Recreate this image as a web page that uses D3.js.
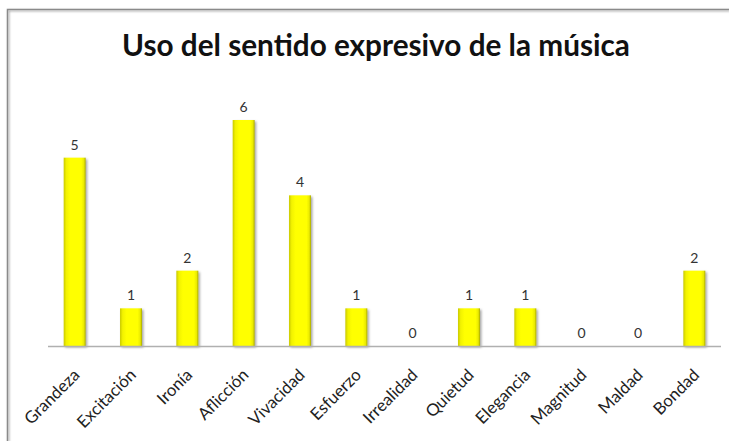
<!DOCTYPE html>
<html><head><meta charset="utf-8">
<script src="https://cdn.jsdelivr.net/npm/d3@7"></script>
<style>body{margin:0;background:#fff}svg{display:block}</style>
</head><body>
<script>
const title = "Uso del sentido expresivo de la música";
const categories = ["Grandeza","Excitación","Ironía","Aflicción","Vivacidad","Esfuerzo","Irrealidad","Quietud","Elegancia","Magnitud","Maldad","Bondad"];
const values = [5,1,2,6,4,1,0,1,1,0,0,2];

const W = 729, H = 441;
const FONT = "Lato, 'Open Sans', sans-serif";
const svg = d3.select("body").append("svg").attr("width", W).attr("height", H);
const defs = svg.append("defs");
const g = defs.append("linearGradient").attr("id","barGrad").attr("x1","0").attr("x2","1").attr("y1","0").attr("y2","0");
[[0,"#c9c900"],[0.12,"#f2f200"],[0.3,"#ffff00"],[0.8,"#ffff00"],[0.92,"#eaea00"],[1,"#a8a800"]].forEach(([o,c])=>g.append("stop").attr("offset",o).attr("stop-color",c));
const f = defs.append("filter").attr("id","sh").attr("x","-30%").attr("y","-10%").attr("width","160%").attr("height","130%");
f.append("feDropShadow").attr("dx",1.5).attr("dy",1.5).attr("stdDeviation",1.2).attr("flood-color","#000").attr("flood-opacity",0.35);
const bf = defs.append("filter").attr("id","bsh");
bf.append("feDropShadow").attr("dx",1).attr("dy",1).attr("stdDeviation",1).attr("flood-color","#000").attr("flood-opacity",0.4);

// border (top & left visible)
svg.append("path").attr("d","M7.5,441 L7.5,9.5 L729,9.5").attr("fill","none").attr("stroke","#8a8a8a").attr("stroke-width",1.5).attr("filter","url(#bsh)");

const x = d3.scaleBand().domain(categories).range([46.5, 722.5]).paddingInner(0.61).paddingOuter(0.305);
const y = d3.scaleLinear().domain([0, 6]).range([346, 120]);

svg.selectAll("rect.bar").data(values).join("rect").attr("class","bar")
  .attr("x",(d,i)=>x(categories[i])).attr("width",x.bandwidth())
  .attr("y",d=>y(d)).attr("height",d=>y(0)-y(d))
  .attr("fill","url(#barGrad)").attr("filter","url(#sh)");

// baseline
svg.append("line").attr("x1",48).attr("x2",721).attr("y1",346.5).attr("y2",346.5).attr("stroke","#b0b0b0").attr("stroke-width",1.5);

svg.selectAll("text.val").data(values).join("text").attr("class","val")
  .attr("x",(d,i)=>x(categories[i])+x.bandwidth()/2).attr("y",d=>y(d)-8)
  .attr("text-anchor","middle").attr("font-family",FONT).attr("font-size",14).attr("fill","#333")
  .text(d=>d);

const cats = svg.selectAll("text.cat").data(categories).join("text").attr("class","cat")
  .attr("transform",d=>`translate(${x(d)+x.bandwidth()/2+6},${376}) rotate(-45)`)
  .attr("text-anchor","end").attr("font-family",FONT).attr("font-size",15).attr("fill","#222")
  .text(d=>d);
const gl = cats.filter(d=>d==="Grandeza").node().getComputedTextLength();
cats.attr("font-size", 15*70/gl);

const t = svg.append("text").attr("x",376).attr("y",56).attr("text-anchor","middle")
  .attr("font-family",FONT).attr("font-weight","bold").attr("font-size",25).attr("fill","#111").text(title);
const len = t.node().getComputedTextLength();
t.attr("font-size", 25*508/len);
</script>
</body></html>
